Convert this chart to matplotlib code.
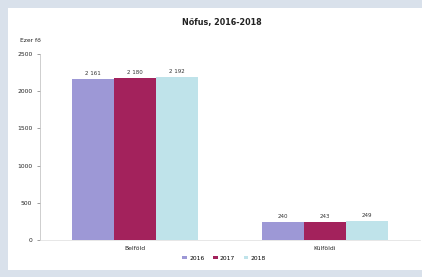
import matplotlib.pyplot as plt
import matplotlib.patches as mpatches
import numpy as np

# data
categories = ['Belföld', 'Külföldi']
years = ['2016', '2017', '2018']
v2016 = [2161, 240]
v2017 = [2180, 243]
v2018 = [2192, 249]
labels_2016 = ['2 161', '240']
labels_2017 = ['2 180', '243']
labels_2018 = ['2 192', '249']
colors = ['#9d98d6', '#a3225c', '#bfe3ea']

fig = plt.figure(figsize=(4.22, 2.77), dpi=100)
fig.patch.set_facecolor('#d9e1eb')
# white panel inside the light frame
fig.patches.append(mpatches.Rectangle((8/422, 7/277), 414/422, 262/277,
                                      transform=fig.transFigure, facecolor='white',
                                      edgecolor='none', zorder=-1))

ax = fig.add_axes([40/422, 37/277, 380/422, 186/277])
ax.patch.set_alpha(0)

x = np.arange(len(categories))
w = 0.22
series = [v2016, v2017, v2018]
lbls = [labels_2016, labels_2017, labels_2018]
for i, (vals, lb) in enumerate(zip(series, lbls)):
    pos = x + (i - 1) * w
    ax.bar(pos, vals, w, color=colors[i], label=years[i])
    for p, v, t in zip(pos, vals, lb):
        ax.text(p, v + 40, t, ha='center', va='bottom', fontsize=4, color='#333333')

ax.set_xlim(-0.5, 1.5)
ax.set_ylim(0, 2500)
ax.set_yticks([0, 500, 1000, 1500, 2000, 2500])
ax.set_xticks(x)
ax.set_xticklabels(categories)
ax.tick_params(axis='y', labelsize=4.3, length=2, width=0.4, colors='#555555', labelcolor='#222222')
ax.tick_params(axis='x', labelsize=4.3, length=0, colors='#222222', pad=4)
for s in ['top', 'right']:
    ax.spines[s].set_visible(False)
ax.spines['left'].set_color('#bbbbbb')
ax.spines['left'].set_linewidth(0.5)
ax.spines['bottom'].set_color('#dddddd')
ax.spines['bottom'].set_linewidth(0.5)

fig.text(222/422, 1 - 22/277, 'Nőfus, 2016-2018', ha='center', va='center',
         fontsize=5.8, fontweight='bold', color='#222222')
fig.text(20/422, 1 - 40/277, 'Ezer fő', ha='left', va='center', fontsize=4.3, color='#222222')

fig.legend(loc='center', bbox_to_anchor=(224/422, 1 - 258/277), ncol=3, frameon=False,
           fontsize=4.3, handlelength=0.8, handleheight=0.5, columnspacing=1.4,
           handletextpad=0.4)

fig.savefig('out.png', dpi=100, facecolor=fig.get_facecolor())
